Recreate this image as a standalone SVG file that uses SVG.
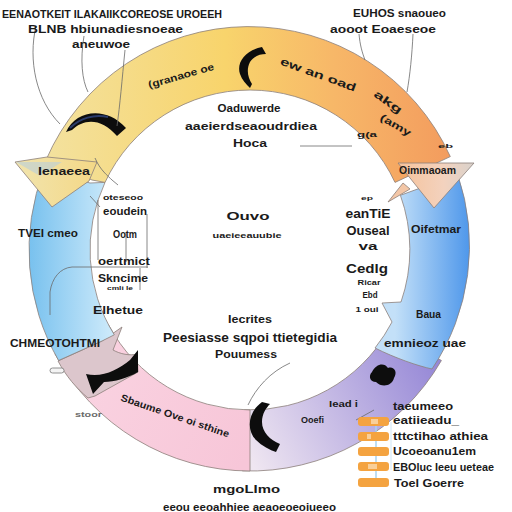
<svg xmlns="http://www.w3.org/2000/svg" width="512" height="512" viewBox="0 0 512 512">
<defs>
<style>
.t{font-family:"Liberation Sans",Arial,sans-serif;font-weight:bold;fill:#1a1a1a}
.band{stroke:#8c7f7a;stroke-width:0.8}
.lead{fill:none;stroke:#6a6a6a;stroke-width:0.8}
.blk{fill:#0d0d0d}
.bar{fill:#f4a340}
.barm{fill:#f9cf98}
</style>
<linearGradient id="gTop" x1="40" y1="0" x2="450" y2="0" gradientUnits="userSpaceOnUse">
<stop offset="0" stop-color="#f3e2a0"/><stop offset="0.45" stop-color="#f8d46c"/><stop offset="0.72" stop-color="#f7b768"/><stop offset="1" stop-color="#f39c5e"/>
</linearGradient>
<linearGradient id="gLB" x1="27" y1="0" x2="110" y2="0" gradientUnits="userSpaceOnUse">
<stop offset="0" stop-color="#76c0ee"/><stop offset="1" stop-color="#cbe9fa"/>
</linearGradient>
<linearGradient id="gRB" x1="395" y1="0" x2="472" y2="0" gradientUnits="userSpaceOnUse">
<stop offset="0" stop-color="#c3e0f8"/><stop offset="1" stop-color="#4b95ea"/>
</linearGradient>
<linearGradient id="gLav" x1="440" y1="360" x2="250" y2="460" gradientUnits="userSpaceOnUse">
<stop offset="0" stop-color="#9486d6"/><stop offset="1" stop-color="#efe6f1"/>
</linearGradient>
<linearGradient id="gPink" x1="250" y1="450" x2="60" y2="360" gradientUnits="userSpaceOnUse">
<stop offset="0" stop-color="#f7c6d8"/><stop offset="1" stop-color="#fad4e2"/>
</linearGradient>
<linearGradient id="gArrL" x1="15" y1="0" x2="97" y2="0" gradientUnits="userSpaceOnUse">
<stop offset="0" stop-color="#f1e4ae"/><stop offset="1" stop-color="#f4d886"/>
</linearGradient>
<linearGradient id="gArrR" x1="398" y1="0" x2="474" y2="0" gradientUnits="userSpaceOnUse">
<stop offset="0" stop-color="#f6c29a"/><stop offset="0.6" stop-color="#f3d2be"/><stop offset="1" stop-color="#d9d2cc"/>
</linearGradient>
</defs>
<rect width="512" height="512" fill="#ffffff"/>

<g id="ring">
<path id="seg-lavender" class="band" fill="url(#gLav)" d="M441.4,360.5 A221 221 0 0 1 242.3,470.9 L244.4,409.9 A160 160 0 0 0 388.6,330 Z"/>
<path id="seg-pink" class="band" fill="url(#gPink)" d="M250,471 A221 221 0 0 1 54.9,353.7 L108.7,325.1 A160 160 0 0 0 250,410 Z"/>
<path id="arrow-bl" class="band" fill="#dcc6cc" d="M58,361 L102,341 L122,327 L113,350 C120,354 130,356 137,354 L138,372 L95,396 L88,398 C76,388 66,376 58,361 Z"/>
<path id="seg-left-blue" class="band" fill="url(#gLB)" d="M58.6,360.5 A221 221 0 0 1 44,170 L90,183 L105,182.4 A160 160 0 0 0 114.3,334.8 L102,341 Z"/>
<path id="seg-right-blue" class="band" fill="url(#gRB)" d="M457.7,174.4 A221 221 0 0 1 432,369 C418,366 395,358 375,348 A160 160 0 0 0 392,322 L382,303 L401,302 A160 160 0 0 0 400.4,195.3 Z"/>
<path id="seg-top" class="band" fill="url(#gTop)" d="M46,160 A221 221 0 0 1 450.3,156.6 L395,182.4 A160 160 0 0 0 105,182.4 L92,180 Z"/>
<path id="arrow-left" class="band" fill="url(#gArrL)" d="M47,157 L15,162 L52,207 L89,181 L97,162 Z"/>
<path d="M16,162 L62,162 L40,176 Z" fill="#b9cfdc" opacity="0.6"/>
<path id="arrow-right" class="band" fill="url(#gArrR)" d="M398,163 L474,163 L434,208 Z"/>
<path class="band" fill="#f3c6a6" d="M388,202 L403,183 L410,189 Z"/>
</g>

<g id="decor">
<path class="blk" d="M262,47 C246,50 236,62 240,74 C242,80 246,84 250,88 L252,84 C248,78 246,70 250,62 C254,56 260,54 266,54 Z"/>
<path class="blk" d="M66,132 C76,110 106,106 126,128 L117,136 C102,118 84,118 72,130 Z"/>
<path d="M70,128 C80,118 94,114 108,117" fill="none" stroke="#2a3b6a" stroke-width="2"/>
<path class="blk" d="M86,374 C102,378 118,370 130,360 L138,350 L138,372 C128,378 114,382 104,382 L93,394 Z"/>
<path class="blk" d="M262,402 C248,412 246,430 256,440 C262,446 270,450 276,452 L280,444 C270,440 262,432 262,422 C262,414 266,408 270,404 Z"/>
<path class="blk" d="M372,372 C376,364 384,362 388,368 C394,366 398,372 394,378 C392,386 382,388 376,382 C370,382 368,376 372,372 Z"/>
<rect x="50" y="368" width="14" height="5" rx="2.5" fill="#f4f4f4" stroke="#777" stroke-width="0.8"/>
</g>

<g id="connectors">
<path class="lead" d="M36,26 C28,60 36,100 60,124"/>
<path class="lead" d="M84,36 C80,60 82,80 88,92"/>
<path class="lead" d="M125,50 C122,80 120,105 117,126"/>
<path class="lead" d="M359,34 C360,45 362,52 365,60"/>
<path class="lead" d="M413,34 C412,55 410,75 407,92"/>
<path class="lead" d="M95,158 C100,170 108,176 112,180 L118,185"/>
<path class="lead" d="M90,196 L100,207"/>
<path class="lead" d="M98,200 L98,260"/>
<path class="lead" d="M126,232 L126,262"/>
<path class="lead" d="M147,214 L147,268"/>
<path class="lead" d="M50,315 L50,292 C52,278 60,268 72,267 L148,267"/>
<path class="lead" d="M140,268 L140,290"/>
<path class="lead" d="M300,146 L352,146"/>
<path class="lead" d="M248,405 C256,388 270,372 290,363"/>
<path class="lead" d="M356,420 L374,410"/>
<path d="M376,419 L376,478" stroke="#a9d3f0" stroke-width="1.5"/>
<path d="M391,422 L391,470" stroke="#cfe6f6" stroke-width="1"/>
</g>

<g id="legend">
<rect class="bar" x="358" y="417" width="31" height="9" rx="3"/>
<rect class="bar" x="358" y="432" width="31" height="9" rx="3"/>
<rect class="bar" x="358" y="447" width="31" height="9" rx="3"/>
<rect class="bar" x="358" y="462" width="31" height="9" rx="3"/>
<rect class="bar" x="358" y="478" width="31" height="9" rx="3"/>
<rect class="barm" x="371" y="419" width="7" height="5"/>
<rect class="barm" x="367" y="434" width="4" height="5"/>
<rect class="barm" x="368" y="464" width="9" height="5"/>
<text class="t" x="393" y="410" font-size="10" textLength="60" lengthAdjust="spacingAndGlyphs">taeumeeo</text>
<text class="t" x="393" y="424" font-size="10" textLength="66" lengthAdjust="spacingAndGlyphs">eatiieadu_</text>
<text class="t" x="393" y="440" font-size="10" textLength="95" lengthAdjust="spacingAndGlyphs">tttctihao athiea</text>
<text class="t" x="393" y="455" font-size="10" textLength="83" lengthAdjust="spacingAndGlyphs">Ucoeoanu1em</text>
<text class="t" x="393" y="471" font-size="10" textLength="101" lengthAdjust="spacingAndGlyphs">EBOluc Ieeu ueteae</text>
<text class="t" x="394" y="487" font-size="10" textLength="70" lengthAdjust="spacingAndGlyphs">Toel Goerre</text>
</g>

<g id="labels">
<text class="t" x="2" y="18" font-size="11" textLength="220" lengthAdjust="spacingAndGlyphs">EENAOTKEIT ILAKAIIKCOREOSE UROEEH</text>
<text class="t" x="28" y="33" font-size="11" textLength="155" lengthAdjust="spacingAndGlyphs">BLNB hbiunadiesnoeae</text>
<text class="t" x="72" y="48" font-size="11" textLength="58" lengthAdjust="spacingAndGlyphs">aneuwoe</text>
<text class="t" x="353" y="17" font-size="11" textLength="93" lengthAdjust="spacingAndGlyphs">EUHOS snaoueo</text>
<text class="t" x="330" y="33" font-size="11" textLength="106" lengthAdjust="spacingAndGlyphs">aooot Eoaeseoe</text>

<text class="t" font-size="10" transform="translate(182,79) rotate(-16)" text-anchor="middle" textLength="68" lengthAdjust="spacingAndGlyphs">(granaoe oe</text>
<text class="t" font-size="11" transform="translate(317,78) rotate(20)" text-anchor="middle" textLength="80" lengthAdjust="spacingAndGlyphs">ew  an  oad</text>
<text class="t" font-size="11" transform="translate(386,105) rotate(35)" text-anchor="middle" textLength="32" lengthAdjust="spacingAndGlyphs">akg</text>
<text class="t" font-size="10" transform="translate(394,128) rotate(30)" text-anchor="middle" textLength="34" lengthAdjust="spacingAndGlyphs">(amy</text>
<text class="t" x="438" y="148" font-size="6" textLength="15" lengthAdjust="spacingAndGlyphs">eb</text>

<text class="t" x="249" y="112" font-size="11" text-anchor="middle" textLength="63" lengthAdjust="spacingAndGlyphs">Oaduwerde</text>
<text class="t" x="251" y="130" font-size="10" text-anchor="middle" textLength="132" lengthAdjust="spacingAndGlyphs">aaeierdseaoudrdiea</text>
<text class="t" x="250" y="147" font-size="11" text-anchor="middle" textLength="34" lengthAdjust="spacingAndGlyphs">Hoca</text>

<text class="t" x="38" y="175" font-size="10" textLength="52" lengthAdjust="spacingAndGlyphs">Ienaeea</text>
<text class="t" x="103" y="200" font-size="8" textLength="40" lengthAdjust="spacingAndGlyphs">oteseoo</text>
<text class="t" x="103" y="215" font-size="10" textLength="44" lengthAdjust="spacingAndGlyphs">eoudein</text>
<text class="t" x="113" y="238" font-size="10" textLength="24" lengthAdjust="spacingAndGlyphs">Ootm</text>
<text class="t" x="98" y="265" font-size="10" textLength="52" lengthAdjust="spacingAndGlyphs">oertmict</text>
<text class="t" x="98" y="282" font-size="10" textLength="50" lengthAdjust="spacingAndGlyphs">Skncime</text>
<text class="t" x="107" y="290" font-size="6" textLength="26" lengthAdjust="spacingAndGlyphs">cmli le</text>
<text class="t" x="93" y="314" font-size="10" textLength="50" lengthAdjust="spacingAndGlyphs">Elhetue</text>
<text class="t" x="18" y="237" font-size="11" textLength="60" lengthAdjust="spacingAndGlyphs">TVEI cmeo</text>

<text class="t" x="248" y="220" font-size="11" text-anchor="middle" textLength="43" lengthAdjust="spacingAndGlyphs">Ouvo</text>
<text class="t" x="247" y="238" font-size="8" text-anchor="middle" textLength="69" lengthAdjust="spacingAndGlyphs">uaeieeauubie</text>
<text class="t" x="250" y="323" font-size="10" text-anchor="middle" textLength="44" lengthAdjust="spacingAndGlyphs">Iecrites</text>
<text class="t" x="250" y="342" font-size="12" text-anchor="middle" textLength="174" lengthAdjust="spacingAndGlyphs">Peesiasse sqpoi ttietegidia</text>
<text class="t" x="246" y="358" font-size="10" text-anchor="middle" textLength="62" lengthAdjust="spacingAndGlyphs">Pouumess</text>

<text class="t" x="367" y="137" font-size="7" text-anchor="middle" textLength="20" lengthAdjust="spacingAndGlyphs">g(a</text>
<text class="t" x="367" y="200" font-size="6" text-anchor="middle" textLength="12" lengthAdjust="spacingAndGlyphs">ep</text>
<text class="t" x="368" y="218" font-size="12" text-anchor="middle" textLength="45" lengthAdjust="spacingAndGlyphs">eanTiE</text>
<text class="t" x="368" y="235" font-size="12" text-anchor="middle" textLength="43" lengthAdjust="spacingAndGlyphs">Ouseal</text>
<text class="t" x="368" y="250" font-size="10" text-anchor="middle" textLength="19" lengthAdjust="spacingAndGlyphs">va</text>
<text class="t" x="367" y="273" font-size="12" text-anchor="middle" textLength="42" lengthAdjust="spacingAndGlyphs">Cedlg</text>
<text class="t" x="369" y="285" font-size="8" text-anchor="middle" textLength="23" lengthAdjust="spacingAndGlyphs">Ricar</text>
<text class="t" x="370" y="298" font-size="9" text-anchor="middle" textLength="15" lengthAdjust="spacingAndGlyphs">Ebd</text>
<text class="t" x="367" y="312" font-size="8" text-anchor="middle" textLength="23" lengthAdjust="spacingAndGlyphs">1 oui</text>

<text class="t" x="399" y="174" font-size="10" textLength="57" lengthAdjust="spacingAndGlyphs">Oimmaoam</text>
<text class="t" x="411" y="233" font-size="11" textLength="50" lengthAdjust="spacingAndGlyphs">Oifetmar</text>
<text class="t" x="416" y="318" font-size="10" textLength="25" lengthAdjust="spacingAndGlyphs">Baua</text>
<text class="t" x="384" y="347" font-size="10" textLength="82" lengthAdjust="spacingAndGlyphs">emnieoz uae</text>

<text class="t" x="10" y="347" font-size="10" textLength="90" lengthAdjust="spacingAndGlyphs">CHMEOTOHTMI</text>
<text class="t" x="75" y="417" font-size="8" style="fill:#6a6a6a" textLength="27" lengthAdjust="spacingAndGlyphs">stoor</text>
<text class="t" font-size="10" transform="translate(174,419) rotate(19)" text-anchor="middle" textLength="114" lengthAdjust="spacingAndGlyphs">Sbaume Ove oi sthine</text>
<text class="t" x="329" y="407" font-size="9" textLength="29" lengthAdjust="spacingAndGlyphs">Iead i</text>
<text class="t" x="301" y="423" font-size="9" textLength="23" lengthAdjust="spacingAndGlyphs">Ooefi</text>

<text class="t" x="213" y="493" font-size="11" textLength="67" lengthAdjust="spacingAndGlyphs">mgoLImo</text>
<text class="t" x="163" y="511" font-size="11" textLength="173" lengthAdjust="spacingAndGlyphs">eeou eeoahhiee aeaoeoeoiueeo</text>
</g>
</svg>
